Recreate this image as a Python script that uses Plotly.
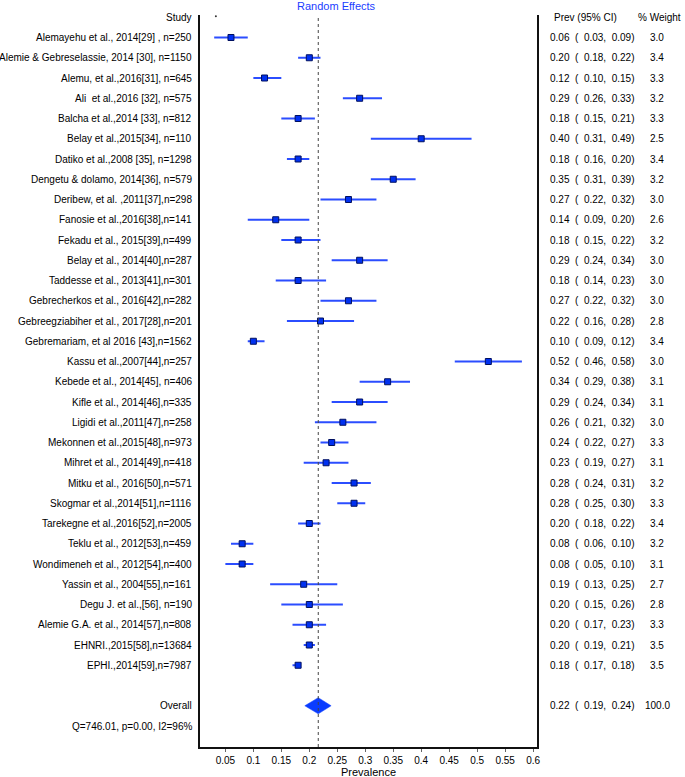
import plotly.graph_objects as go

studies = [
    "Alemayehu et al., 2014[29] , n=250",
    "Alemie & Gebreselassie, 2014 [30], n=1150",
    "Alemu, et al.,2016[31], n=645",
    "Ali  et al.,2016 [32], n=575",
    "Balcha et al.,2014 [33], n=812",
    "Belay et al.,2015[34], n=110",
    "Datiko et al.,2008 [35], n=1298",
    "Dengetu & dolamo, 2014[36], n=579",
    "Deribew, et al. ,2011[37],n=298",
    "Fanosie et al.,2016[38],n=141",
    "Fekadu et al., 2015[39],n=499",
    "Belay et al., 2014[40],n=287",
    "Taddesse et al., 2013[41],n=301",
    "Gebrecherkos et al., 2016[42],n=282",
    "Gebreegziabiher et al., 2017[28],n=201",
    "Gebremariam, et al 2016 [43],n=1562",
    "Kassu et al.,2007[44],n=257",
    "Kebede et al., 2014[45], n=406",
    "Kifle et al., 2014[46],n=335",
    "Ligidi et al.,2011[47],n=258",
    "Mekonnen et al.,2015[48],n=973",
    "Mihret et al., 2014[49],n=418",
    "Mitku et al., 2016[50],n=571",
    "Skogmar et al.,2014[51],n=1116",
    "Tarekegne et al.,2016[52],n=2005",
    "Teklu et al., 2012[53],n=459",
    "Wondimeneh et al., 2012[54],n=400",
    "Yassin et al., 2004[55],n=161",
    "Degu J. et al.,[56], n=190",
    "Alemie G.A. et al., 2014[57],n=808",
    "EHNRI.,2015[58],n=13684",
    "EPHI.,2014[59],n=7987",
]
prev = [0.06, 0.20, 0.12, 0.29, 0.18, 0.40, 0.18, 0.35, 0.27, 0.14, 0.18, 0.29, 0.18, 0.27,
        0.22, 0.10, 0.52, 0.34, 0.29, 0.26, 0.24, 0.23, 0.28, 0.28, 0.20, 0.08, 0.08, 0.19,
        0.20, 0.20, 0.20, 0.18]
lower = [0.03, 0.18, 0.10, 0.26, 0.15, 0.31, 0.16, 0.31, 0.22, 0.09, 0.15, 0.24, 0.14, 0.22,
         0.16, 0.09, 0.46, 0.29, 0.24, 0.21, 0.22, 0.19, 0.24, 0.25, 0.18, 0.06, 0.05, 0.13,
         0.15, 0.17, 0.19, 0.17]
upper = [0.09, 0.22, 0.15, 0.33, 0.21, 0.49, 0.20, 0.39, 0.32, 0.20, 0.22, 0.34, 0.23, 0.32,
         0.28, 0.12, 0.58, 0.38, 0.34, 0.32, 0.27, 0.27, 0.31, 0.30, 0.22, 0.10, 0.10, 0.25,
         0.26, 0.23, 0.21, 0.18]
weight = [3.0, 3.4, 3.3, 3.2, 3.3, 2.5, 3.4, 3.2, 3.0, 2.6, 3.2, 3.0, 3.0, 3.0, 2.8, 3.4, 3.0,
          3.1, 3.1, 3.0, 3.3, 3.1, 3.2, 3.3, 3.4, 3.2, 3.1, 2.7, 2.8, 3.3, 3.5, 3.5]
overall_est, overall_lo, overall_hi, overall_w = 0.216, 0.192, 0.239, 100.0
het_text = "Q=746.01, p=0.00, I2=96%"
tick_vals = [0.05, 0.1, 0.15, 0.2, 0.25, 0.3, 0.35, 0.4, 0.45, 0.5, 0.55, 0.6]
tick_text = ["0.05", "0.1", "0.15", "0.2", "0.25", "0.3", "0.35", "0.4", "0.45", "0.5", "0.55", "0.6"]

W, H = 685, 777
L, R, T, B = 200, 536.7, 15, 747
FONT = "Liberation Sans, Arial, sans-serif"
n = len(studies)
rows = list(range(n))
row_overall = n + 1
row_het = n + 2
row_px0, row_step = 37.5, 20.25
y_top = (T - row_px0) / row_step
y_bot = (B - row_px0) / row_step


def px(xp):
    return (xp - L) / (R - L)


fig = go.Figure()

# CI lines
ci_x, ci_y = [], []
for i in rows:
    ci_x += [lower[i], upper[i], None]
    ci_y += [i, i, None]
fig.add_trace(go.Scatter(x=ci_x, y=ci_y, mode="lines",
                         line=dict(color="#2b4dff", width=2), hoverinfo="skip"))
fig.add_trace(go.Scatter(x=prev, y=rows, mode="markers",
                         marker=dict(symbol="square", size=6, color="#0030f0",
                                     line=dict(color="#001060", width=1)),
                         hoverinfo="skip"))
# overall diamond
dh = 0.4
fig.add_trace(go.Scatter(
    x=[overall_lo, overall_est, overall_hi, overall_est, overall_lo],
    y=[row_overall, row_overall - dh, row_overall, row_overall + dh, row_overall],
    mode="lines", fill="toself", fillcolor="#0a3cff", line=dict(color="#0a3cff", width=0.5),
    hoverinfo="skip"))
# tiny dot at header
fig.add_trace(go.Scatter(x=[0.033], y=[-1.05], mode="markers",
                         marker=dict(size=2, color="#333"), hoverinfo="skip"))

fig.add_shape(type="line", xref="x", yref="paper", x0=overall_est, x1=overall_est, y0=0, y1=1,
              line=dict(color="#444", width=1, dash="dot"))

ann = []


def txt(x, y, s, anchor, color="black", size=10, yref="y"):
    ann.append(dict(x=x, y=y, xref="paper", yref=yref, text=s, showarrow=False,
                    xanchor=anchor, yanchor="middle", font=dict(family=FONT, size=size, color=color)))


txt(px(194.5), -1, "Study", "right")
txt(px(551.5), -1, "Prev (95% CI)", "left")
txt(px(659), -1, "% Weight", "center")
for i in rows:
    txt(px(194.5), i, studies[i], "right")
    txt(px(547.5), i, f"{prev[i]:.2f}  (  {lower[i]:.2f},  {upper[i]:.2f})", "left")
    txt(px(657), i, f"{weight[i]:.1f}", "center")
txt(px(194.5), row_overall, "Overall", "right")
txt(px(547.5), row_overall, f"{overall_est:.2f}  (  {overall_lo:.2f},  {overall_hi:.2f})", "left")
txt(px(657.5), row_overall, f"{overall_w:.1f}", "center")
txt(px(194.5), row_het, het_text, "right")
txt(px(336.5), 1 + (T - 6) / (B - T), "Random Effects", "center", color="#1a3cff", size=11, yref="paper")
txt(px(368), -(772 - B) / (B - T), "Prevalence", "center", size=11, yref="paper")

fig.update_layout(
    width=W, height=H, margin=dict(l=L, r=W - R, t=T, b=H - B),
    paper_bgcolor="white", plot_bgcolor="white", showlegend=False,
    annotations=ann,
    xaxis=dict(range=[(L - 197.4) / 559, (R - 197.4) / 559], tickvals=tick_vals, ticktext=tick_text,
               showgrid=False, zeroline=False, showline=True, linecolor="#111", linewidth=2,
               ticks="outside", ticklen=3, tickcolor="#666", tickwidth=1,
               tickfont=dict(family=FONT, size=10, color="black")),
    yaxis=dict(range=[y_bot, y_top], showgrid=False, zeroline=False, showticklabels=False,
               showline=True, mirror=True, linecolor="#111", linewidth=2, ticks=""),
)
fig.write_html("out.html", config={"displayModeBar": False},
               post_script="document.body.style.margin='0';document.body.style.padding='0';"
                           "document.body.style.overflow='hidden';")
